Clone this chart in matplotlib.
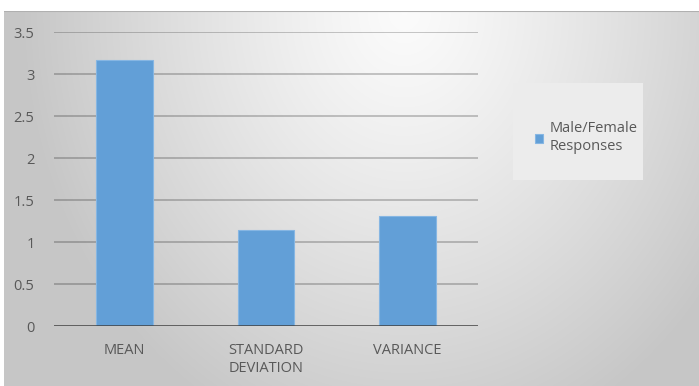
import numpy as np
import matplotlib
matplotlib.use("Agg")
import matplotlib.pyplot as plt
from matplotlib.patches import Rectangle

# ---- Data
categories = ["MEAN", "STANDARD\nDEVIATION", "VARIANCE"]
values = [3.17, 1.14, 1.31]
series_name = "Male/Female\nResponses"
yticks = [0, 0.5, 1, 1.5, 2, 2.5, 3, 3.5]
ytick_labels = ["0", "0.5", "1", "1.5", "2", "2.5", "3", "3.5"]

W, H = 699, 386
plt.rcParams["font.family"] = ["Open Sans", "DejaVu Sans"]
fig = plt.figure(figsize=(W / 100, H / 100), dpi=100)
fig.patch.set_facecolor("white")

# ---- Background gradient (chart area)
bx0, by0 = 4, 11
bg = fig.add_axes([bx0 / W, 0, 1 - bx0 / W, (H - by0) / H])
bw, bh = W - bx0, H - by0
xx, yy = np.meshgrid(np.arange(bw), np.arange(bh))
d = np.sqrt(((xx - 400) / 380.) ** 2 + ((yy - 0) / 450.) ** 2)
d = np.clip(d, 0, 1) ** 1.2
shade = 0.985 - d * (0.985 - 0.78)
bg.imshow(np.dstack([shade] * 3), aspect="auto", extent=[0, 1, 0, 1])
bg.axhline(1, color="#b0b0b0", lw=1.5)
bg.set_xlim(0, 1)
bg.set_ylim(0, 1)
bg.axis("off")

# ---- Plot area
x0, x1 = 54, 478
y0, y1 = 326, 32
ax = fig.add_axes([x0 / W, (H - y0) / H, (x1 - x0) / W, (y0 - y1) / H])
ax.patch.set_alpha(0)

pos = np.arange(len(categories))
bars = ax.bar(pos, values, width=0.40, color="#629fd7", edgecolor="#86b6e3",
              linewidth=0.8, zorder=3, label=series_name)

for t in yticks[1:]:
    ax.axhline(t, color="black", alpha=0.25, lw=1.2, zorder=1)
ax.axhline(0, color="#404040", lw=1.8, zorder=4)

ax.set_xlim(-0.5, 2.5)
ax.set_ylim(0, 3.5)
ax.set_yticks(yticks)
ax.set_yticklabels(ytick_labels)
ax.set_xticks(pos)
ax.set_xticklabels(categories, linespacing=1.3, va="top")
ax.tick_params(axis="both", length=0, colors="#595959", labelsize=10.5)
ax.tick_params(axis="y", pad=14)
ax.tick_params(axis="x", pad=12)
for s in ax.spines.values():
    s.set_visible(False)

# ---- Legend
lx0, lx1, ly0, ly1 = 513, 643, 83, 180
fig.patches.append(Rectangle((lx0 / W, (H - ly1) / H), (lx1 - lx0) / W,
                             (ly1 - ly0) / H, transform=fig.transFigure,
                             facecolor="#ececec", edgecolor="none", zorder=1))
leg = fig.legend(handles=[bars], labels=[series_name], loc="upper left",
                 bbox_to_anchor=(522 / W, (H - 108) / H), frameon=False,
                 handlelength=0.55, handleheight=0.55, handletextpad=0.45,
                 fontsize=10.5, labelcolor="#595959")
for t in leg.get_texts():
    t.set_linespacing(1.3)

fig.savefig("out.png", dpi=100)
